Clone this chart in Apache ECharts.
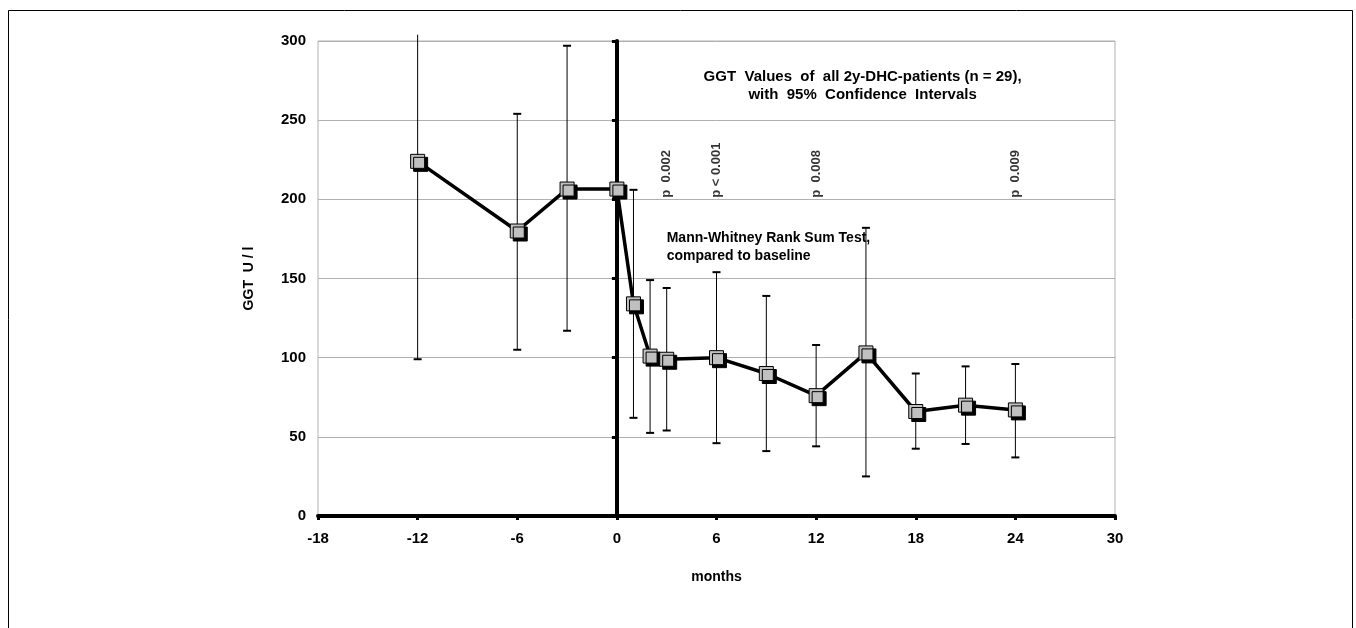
<!DOCTYPE html>
<html>
<head>
<meta charset="utf-8">
<script src="https://cdn.jsdelivr.net/npm/echarts@6/dist/echarts.min.js"></script>
<style>
html,body{margin:0;padding:0;background:#fff;}
#chart{width:1356px;height:628px;}
</style>
</head>
<body>
<div id="chart"></div>
<script>
// months after start of therapy
const months = [-12, -6, -3, 0, 1, 2, 3, 6, 9, 12, 15, 18, 21, 24];
// mean GGT (U/l)
const ggt = [224, 180, 206.5, 206.5, 134, 101, 99, 100, 90, 76, 103, 66, 70, 67];
// 95% CI lower / upper (null = not shown)
const ciLow = [99, 105, 117, null, 62, 52.5, 54, 46, 41, 44, 25, 42.5, 45.5, 37];
const ciHigh = [304, 254, 297, null, 206, 149, 144, 154, 139, 108, 182, 90, 94.5, 96];
// p-value annotations (month, label)
const pMonths = [3, 6, 12, 24];
const pLabels = ['p  0.002', 'p < 0.001', 'p  0.008', 'p  0.009'];
const pBase = 201;
const xTicks = [-18, -12, -6, 0, 6, 12, 18, 24, 30];
const yTicks = [0, 50, 100, 150, 200, 250, 300];

const FONT = '"Liberation Sans", Arial, sans-serif';
const chart = echarts.init(document.getElementById('chart'));

const errData = months.map((m, i) => [m, ciLow[i], ciHigh[i]]).filter(d => d[1] != null);
const Y_MAX = 300;

const option = {
  animation: false,
  backgroundColor: '#fff',
  textStyle: { fontFamily: FONT },
  grid: { left: 318, right: 241, top: 41, bottom: 112, show: true, borderColor: '#b0b0b0', borderWidth: 1 },
  xAxis: {
    type: 'value', min: xTicks[0], max: xTicks[xTicks.length - 1], interval: 6,
    name: 'months', nameLocation: 'middle', nameGap: 54,
    nameTextStyle: { fontFamily: FONT, fontWeight: 'bold', fontSize: 14, color: '#000' },
    axisLine: { show: true, onZero: false, lineStyle: { color: '#000', width: 4 } },
    axisTick: { show: true, length: 4, lineStyle: { color: '#000', width: 3 } },
    axisLabel: { fontFamily: FONT, fontWeight: 'bold', fontSize: 15, color: '#000', margin: 15 },
    splitLine: { show: false }
  },
  yAxis: [{
    type: 'value', min: 0, max: Y_MAX, interval: 50,
    name: 'GGT  U / l', nameLocation: 'middle', nameGap: 62, nameRotate: 90,
    nameTextStyle: { fontFamily: FONT, fontWeight: 'bold', fontSize: 14, color: '#000' },
    axisLine: { show: false, onZero: false },
    axisTick: { show: false },
    axisLabel: { fontFamily: FONT, fontWeight: 'bold', fontSize: 15, color: '#000', margin: 12 },
    splitLine: { show: true, lineStyle: { color: '#b0b0b0', width: 1 } }
  }, {
    type: 'value', min: 0, max: Y_MAX, interval: 50, position: 'left',
    axisLine: { show: true, onZero: true, lineStyle: { color: '#000', width: 4 } },
    axisTick: { show: true, length: 5, lineStyle: { color: '#000', width: 3 } },
    axisLabel: { show: false },
    splitLine: { show: false }
  }],
  series: [{
    type: 'custom',
    z: 1,
    data: errData,
    renderItem: function (params, api) {
      const x = api.value(0), lo = api.value(1), hi = api.value(2);
      const pLo = api.coord([x, lo]);
      const pHi = api.coord([x, hi]);
      const w = 4;
      const children = [{
        type: 'line', shape: { x1: pLo[0], y1: pLo[1], x2: pHi[0], y2: pHi[1] },
        style: { stroke: '#000', lineWidth: 1 }
      }, {
        type: 'line', shape: { x1: pLo[0] - w, y1: pLo[1], x2: pLo[0] + w, y2: pLo[1] },
        style: { stroke: '#000', lineWidth: 2 }
      }];
      if (hi <= Y_MAX) {
        children.push({
          type: 'line', shape: { x1: pHi[0] - w, y1: pHi[1], x2: pHi[0] + w, y2: pHi[1] },
          style: { stroke: '#000', lineWidth: 2 }
        });
      }
      return { type: 'group', children: children };
    }
  }, {
    type: 'line',
    z: 3,
    data: months.map((m, i) => [m, ggt[i]]),
    symbol: 'rect', symbolSize: 14,
    lineStyle: { color: '#000', width: 3.5 },
    itemStyle: { color: '#c0c0c0', borderColor: '#000', borderWidth: 1, shadowColor: '#000', shadowOffsetX: 3, shadowOffsetY: 3, shadowBlur: 0 }
  }, {
    type: 'scatter',
    z: 4,
    symbolSize: 0,
    data: pMonths.map((m, i) => ({ value: [m, pBase], name: pLabels[i] })),
    label: {
      show: true, position: 'inside', rotate: 90, align: 'left', verticalAlign: 'middle',
      formatter: p => p.name, fontFamily: FONT, fontWeight: 'bold', fontSize: 13, color: '#000',
      offset: [0, 0]
    }
  }]
};
chart.setOption(option);

const titlePos = chart.convertToPixel({ gridIndex: 0 }, [14.8, 283]);
const notePos = chart.convertToPixel({ gridIndex: 0 }, [3, 181]);
chart.setOption({
  graphic: [{
    type: 'rect', silent: true,
    shape: { x: 8.5, y: 10.5, width: 1344, height: 660 },
    style: { fill: 'none', stroke: '#000', lineWidth: 1 }
  }, {
    type: 'text', silent: true, x: titlePos[0], y: titlePos[1],
    style: {
      text: 'GGT  Values  of  all 2y-DHC-patients (n = 29),\nwith  95%  Confidence  Intervals',
      font: 'bold 15px ' + FONT, fill: '#000', align: 'center', verticalAlign: 'top', lineHeight: 18
    }
  }, {
    type: 'text', silent: true, x: notePos[0], y: notePos[1],
    style: {
      text: 'Mann-Whitney Rank Sum Test,\ncompared to baseline',
      font: 'bold 14px ' + FONT, fill: '#000', align: 'left', verticalAlign: 'top', lineHeight: 18
    }
  }]
});
</script>
</body>
</html>
